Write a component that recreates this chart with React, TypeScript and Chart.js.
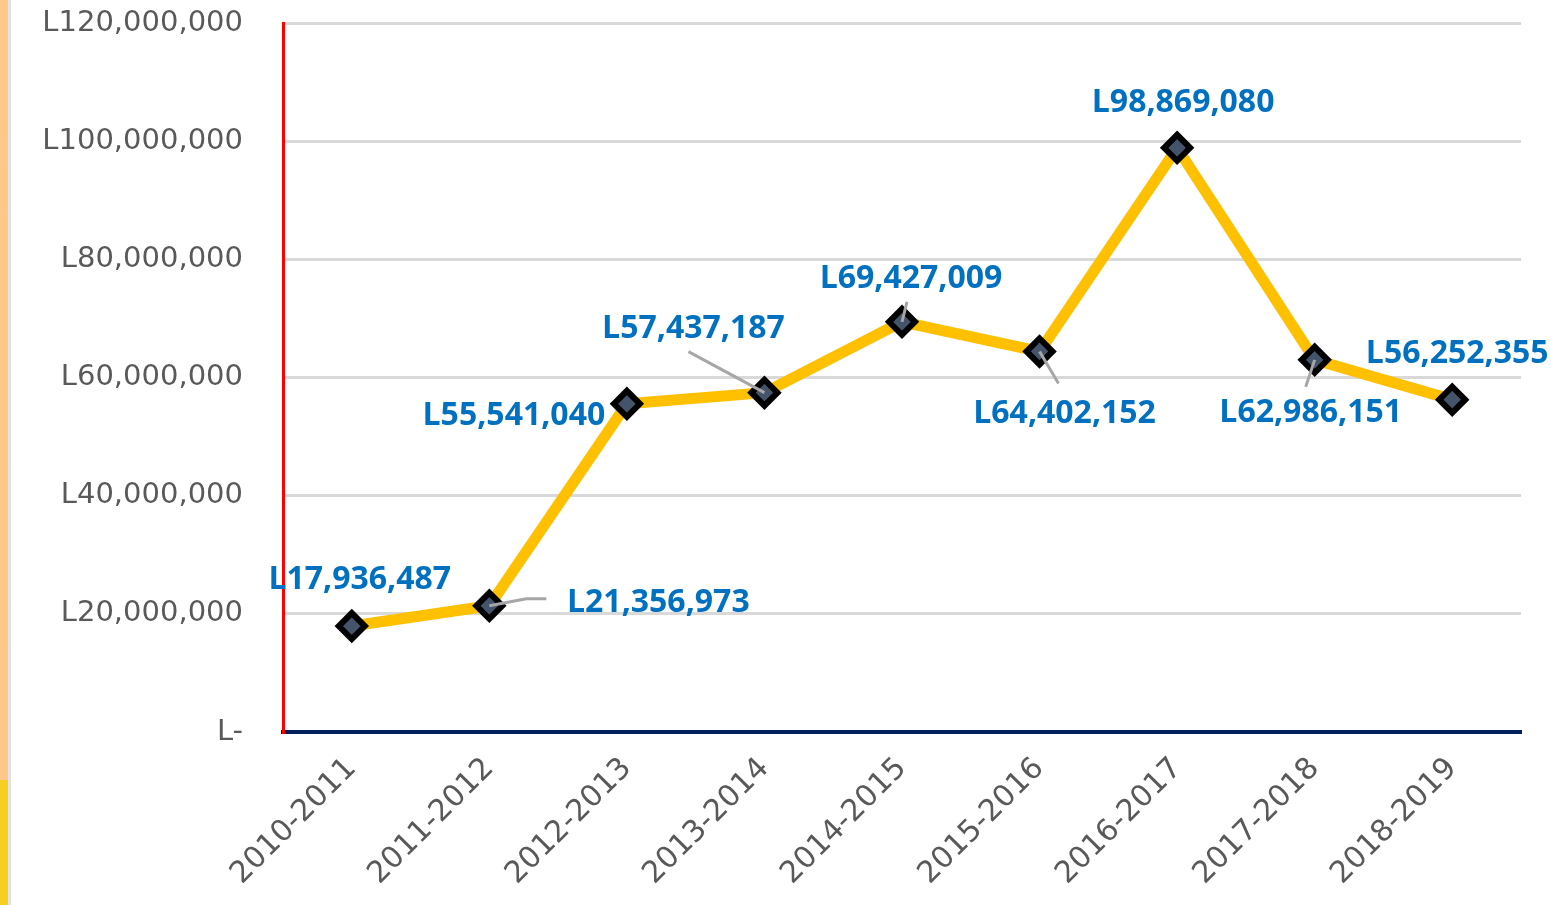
import React, { useEffect, useRef } from "react";
import { Chart, registerables } from "chart.js";

Chart.register(...registerables);

const categories = [
  "2010-2011", "2011-2012", "2012-2013", "2013-2014", "2014-2015",
  "2015-2016", "2016-2017", "2017-2018", "2018-2019",
];
const values = [
  17936487, 21356973, 55541040, 57437187, 69427009,
  64402152, 98869080, 62986151, 56252355,
];
const yTicks = [0, 20000000, 40000000, 60000000, 80000000, 100000000, 120000000];

// label placement (offset of label centre from its point, in px) and leader lines
const labelOffsets: [number, number][] = [
  [8, -46], [169, -3], [-113, 12], [-71, -64], [9, -43],
  [25, 62], [6, -45], [-4, 53], [5, -46],
];
const leaders: ([number, number][] | null)[] = [
  null,
  [[0, 0], [37, -7], [57, -7]],
  null,
  [[0, 0], [-76, -41]],
  [[0, 0], [5, -20]],
  [[0, 0], [19, 32]],
  null,
  [[0, 0], [-9, 27]],
  null,
];

const fmt = (v: number) => (v === 0 ? "L-" : "L" + v.toLocaleString("en-US"));

const labelPlugin = {
  id: "valueLabels",
  afterDatasetsDraw(chart: any) {
    const ctx = chart.ctx;
    const meta = chart.getDatasetMeta(0);
    ctx.save();
    meta.data.forEach((pt: any, i: number) => {
      const l = leaders[i];
      if (l) {
        ctx.beginPath();
        ctx.strokeStyle = "#A6A6A6";
        ctx.lineWidth = 3;
        l.forEach(([dx, dy], k) => {
          if (k === 0) ctx.moveTo(pt.x + dx, pt.y + dy);
          else ctx.lineTo(pt.x + dx, pt.y + dy);
        });
        ctx.stroke();
      }
    });
    ctx.font = "bold 32px 'Open Sans', sans-serif";
    ctx.fillStyle = "#0070C0";
    ctx.textAlign = "center";
    ctx.textBaseline = "middle";
    meta.data.forEach((pt: any, i: number) => {
      const [dx, dy] = labelOffsets[i];
      ctx.fillText(fmt(values[i]), pt.x + dx, pt.y + dy);
    });
    ctx.restore();
  },
};

export default function App() {
  const ref = useRef<HTMLCanvasElement>(null);
  useEffect(() => {
    if (!ref.current) return;
    const chart = new Chart(ref.current, {
      type: "line",
      data: {
        labels: categories,
        datasets: [
          {
            data: values,
            borderColor: "#FFC000",
            borderWidth: 11,
            pointStyle: "rectRot",
            pointRadius: 13,
            pointBorderWidth: 6,
            pointBorderColor: "#000000",
            pointBackgroundColor: "#44546A",
            tension: 0,
          },
        ],
      },
      options: {
        responsive: false,
        animation: false,
        layout: { padding: { left: 0, right: 30, top: 23, bottom: 0 } },
        plugins: { legend: { display: false }, tooltip: { enabled: false } },
        scales: {
          x: {
            offset: true,
            grid: { display: false, drawTicks: false },
            border: { color: "#002060", width: 4 },
            ticks: {
              maxRotation: 45,
              minRotation: 45,
              padding: 19,
              color: "#595959",
              font: { family: "'DejaVu Sans', sans-serif", size: 30 },
            },
            afterFit: (s: any) => {
              s.height = 173;
              s.paddingLeft = 0;
              s.paddingRight = 0;
            },
          },
          y: {
            min: 0,
            max: 120000000,
            afterBuildTicks: (s: any) => {
              s.ticks = yTicks.map((v) => ({ value: v }));
            },
            grid: {
              drawTicks: false,
              lineWidth: 3,
              color: (c: any) => (c.tick && c.tick.value === 0 ? "rgba(0,0,0,0)" : "#D9D9D9"),
            },
            border: { color: "#FF0000", width: 3 },
            ticks: {
              padding: 40,
              color: "#595959",
              font: { family: "'DejaVu Sans', sans-serif", size: 29 },
              callback: (v: any) => fmt(Number(v)),
            },
            afterFit: (s: any) => {
              s.width = 283;
              s.paddingTop = 0;
              s.paddingBottom = 0;
            },
          },
        },
      },
      plugins: [labelPlugin],
    });
    return () => chart.destroy();
  }, []);
  return (
    <div
      style={{
        position: "fixed",
        left: 0,
        top: 0,
        width: 1551,
        height: 905,
        background: "#FFFFFF",
        overflow: "hidden",
      }}
    >
      <div
        style={{
          position: "absolute",
          left: 0,
          top: 0,
          width: 8,
          height: 780,
          background: "linear-gradient(#FFC98C, #FFC78A)",
        }}
      />
      <div
        style={{
          position: "absolute",
          left: 0,
          top: 780,
          width: 8,
          height: 125,
          background: "#F5D022",
        }}
      />
      <div
        style={{
          position: "absolute",
          left: 8,
          top: 0,
          width: 3,
          height: 905,
          background: "#E3E3E3",
        }}
      />
      <canvas
        ref={ref}
        width={1551}
        height={905}
        style={{ position: "absolute", left: 0, top: 0, width: 1551, height: 905 }}
      />
    </div>
  );
}
